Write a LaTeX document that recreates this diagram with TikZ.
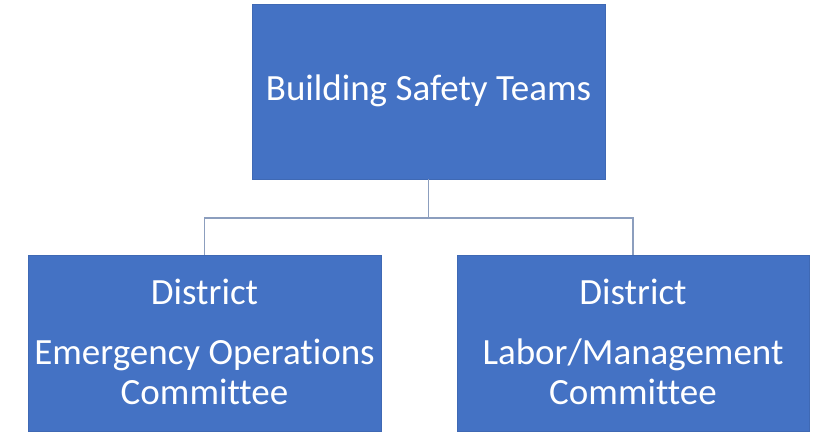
\documentclass[tikz,border=0pt]{standalone}
\usepackage{fontspec}
\setmainfont{Carlito}[Ligatures=NoCommon]
\definecolor{boxblue}{RGB}{68,114,196}
\definecolor{linkgrey}{RGB}{140,158,190}
\begin{document}
\begin{tikzpicture}[x=1pt,y=-1pt,
  teambox/.style={rectangle, fill=boxblue, draw=boxblue!92!black, line width=0.6pt,
    inner sep=0pt},
  teamtext/.style={inner sep=0pt, text=white, align=center,
    font=\fontsize{37}{40}\selectfont},
  link/.style={draw=linkgrey, line width=1.5pt}]
  \useasboundingbox (0,0) rectangle (821,433);
  % top-level team
  \node[teambox, minimum width=353pt, minimum height=175pt] (top) at (428.5,91.5) {};
  \node[teamtext] (topText) at (428.5,91) {Building Safety Teams};
  % district committees
  \node[teambox, minimum width=353pt, minimum height=176pt] (left) at (204.5,343) {};
  \node[teamtext] (leftText) at (204.5,341.5)
    {District\\[20pt]Emergency Operations\\Committee};
  \node[teambox, minimum width=352pt, minimum height=176pt] (right) at (633,343) {};
  \node[teamtext] (rightText) at (633,341.5)
    {District\\[20pt]Labor/Management\\Committee};
  % connectors through a junction below the top box
  \coordinate (j) at (428.5,218);
  \draw[link] (top.south) -- (j) -| (left.north);
  \draw[link] (j) -| (right.north);
\end{tikzpicture}
\end{document}
